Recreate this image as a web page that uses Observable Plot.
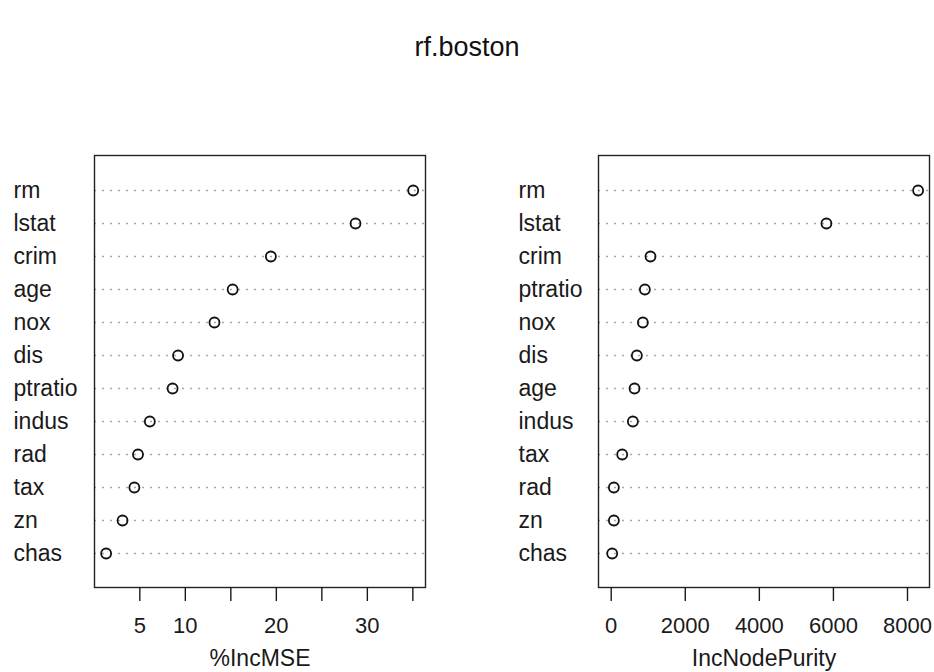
<!DOCTYPE html>
<html>
<head>
<meta charset="utf-8">
<script src="https://cdn.jsdelivr.net/npm/d3@7"></script>
<script src="https://cdn.jsdelivr.net/npm/@observablehq/plot@0.6"></script>
<style>
  html, body { margin: 0; padding: 0; background: #fff; }
  #wrap { position: relative; width: 934px; height: 672px; overflow: hidden; font-family: "Liberation Sans", Arial, sans-serif; }
  #title { position: absolute; left: 0; width: 934px; top: 31px; text-align: center; font-size: 27px; color: #111; line-height: 32px; }
  .panel { position: absolute; top: 120px; }
</style>
</head>
<body>
<div id="wrap">
  <div id="title">rf.boston</div>
  <div id="left" class="panel" style="left:0px"></div>
  <div id="right" class="panel" style="left:467px"></div>
</div>
<script>
const title = "rf.boston";

// %IncMSE panel
const mseNames = ["rm","lstat","crim","age","nox","dis","ptratio","indus","rad","tax","zn","chas"];
const mseValues = [35.04, 28.7, 19.4, 15.2, 13.2, 9.2, 8.6, 6.1, 4.8, 4.4, 3.1, 1.3];
const mseTicks = [5, 10, 15, 20, 25, 30, 35];
const mseTickLabels = [5, 10, 20, 30];
const mseLabel = "%IncMSE";

// IncNodePurity panel
const purNames = ["rm","lstat","crim","ptratio","nox","dis","age","indus","tax","rad","zn","chas"];
const purValues = [8286, 5811, 1061, 909, 855, 693, 630, 585, 297, 72, 72, 27];
const purTicks = [0, 2000, 4000, 6000, 8000];
const purTickLabels = [0, 2000, 4000, 6000, 8000];
const purLabel = "IncNodePurity";

function panel({names, values, ticks, tickLabels, label, domain, marginLeft, marginRight, dx}) {
  const data = names.map((n, i) => ({name: n, value: values[i]}));
  return Plot.plot({
    width: 467,
    height: 552,
    marginTop: 35,
    marginBottom: 85,
    marginLeft,
    marginRight,
    style: {fontFamily: "Liberation Sans, Arial, sans-serif", fontSize: "22px", color: "#1a1a1a", background: "white"},
    x: {domain, label: null},
    y: {type: "point", domain: names, padding: 1, label: null},
    marks: [
      Plot.ruleY(names, {y: d => d, stroke: "#a8a8a8", strokeWidth: 1.3, strokeDasharray: "2,6"}),
      Plot.frame({stroke: "#222", strokeWidth: 1.4}),
      Plot.axisX({ticks, tickSize: 14, tickPadding: 16, strokeWidth: 1.4, fontSize: 22,
        tickFormat: d => tickLabels.includes(d) ? String(d) : "", label: null}),
      Plot.axisY({tickSize: 0, tickPadding: 0, textAnchor: "start", dx, fontSize: 23, label: null}),
      Plot.dot(data, {x: "value", y: "name", r: 5, stroke: "#111", strokeWidth: 1.8, fill: "none"}),
      Plot.text([label], {frameAnchor: "bottom", lineAnchor: "top", dy: 62, fontSize: 23, fill: "#1a1a1a"})
    ]
  });
}

document.getElementById("title").textContent = title;
document.getElementById("left").appendChild(panel({
  names: mseNames, values: mseValues, ticks: mseTicks, tickLabels: mseTickLabels, label: mseLabel,
  domain: [0.02, 36.39], marginLeft: 94, marginRight: 42, dx: -81
}));
document.getElementById("right").appendChild(panel({
  names: purNames, values: purValues, ticks: purTicks, tickLabels: purTickLabels, label: purLabel,
  domain: [-343, 8594], marginLeft: 131, marginRight: 5, dx: -80
}));
</script>
</body>
</html>
